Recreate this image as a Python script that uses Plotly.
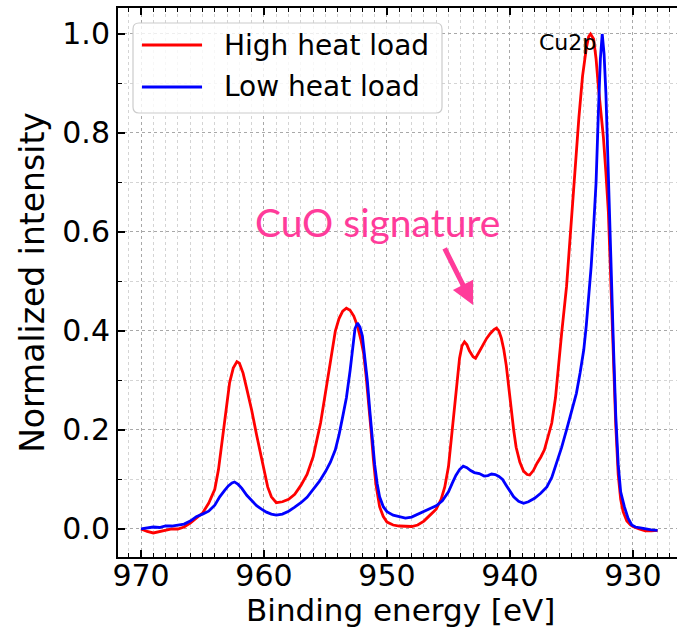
import plotly.graph_objects as go

# ---------------- data ----------------
high_energy = [970.0, 969.5, 969.0, 968.5, 968.0, 967.5, 967.0, 966.5, 966.0, 965.5,
               965.0, 964.5, 964.0, 963.7, 963.4, 963.1, 962.8, 962.5, 962.2, 962.0,
               961.7, 961.4, 961.0, 960.6, 960.3, 960.0, 959.7, 959.4, 959.0, 958.5,
               958.0, 957.5, 957.0, 956.5, 956.0, 955.7, 955.4, 955.1, 954.8, 954.5,
               954.2, 953.9, 953.6, 953.3, 953.0, 952.7, 952.4, 952.1, 951.9, 951.7,
               951.5, 951.3, 951.1, 950.9, 950.6, 950.3, 950.0, 949.5, 949.0, 948.5,
               948.0, 947.5, 947.0, 946.5, 946.0, 945.6, 945.3, 945.0, 944.7, 944.4,
               944.1, 943.9, 943.7, 943.5, 943.3, 943.0, 942.8, 942.5, 942.2, 941.9,
               941.6, 941.3, 941.1, 940.9, 940.7, 940.5, 940.3, 940.1, 939.9, 939.7,
               939.5, 939.2, 938.9, 938.6, 938.4, 938.1, 937.8, 937.5, 937.2, 936.9,
               936.6, 936.3, 936.0, 935.8, 935.4, 935.2, 935.0, 934.7, 934.4, 934.1,
               933.8, 933.6, 933.45, 933.2, 933.0, 932.8, 932.6, 932.4, 932.2, 932.0,
               931.8, 931.6, 931.4, 931.2, 931.0, 930.8, 930.5, 930.2, 930.0, 929.5,
               929.0, 928.5, 928.0]
high_intensity = [0.000, -0.005, -0.008, -0.005, -0.002, 0.000, 0.000, 0.004, 0.012, 0.022,
                  0.032, 0.052, 0.080, 0.120, 0.180, 0.245, 0.295, 0.325, 0.338, 0.335,
                  0.315, 0.283, 0.240, 0.190, 0.153, 0.115, 0.085, 0.065, 0.053, 0.055,
                  0.060, 0.070, 0.088, 0.110, 0.146, 0.180, 0.214, 0.260, 0.310, 0.360,
                  0.400, 0.425, 0.440, 0.446, 0.442, 0.430, 0.410, 0.380, 0.355, 0.310,
                  0.260, 0.200, 0.139, 0.090, 0.045, 0.025, 0.014, 0.008, 0.006, 0.006,
                  0.005, 0.008, 0.016, 0.028, 0.040, 0.060, 0.085, 0.126, 0.200, 0.280,
                  0.345, 0.370, 0.378, 0.372, 0.360, 0.348, 0.345, 0.358, 0.372, 0.385,
                  0.395, 0.403, 0.406, 0.400, 0.385, 0.362, 0.330, 0.285, 0.240, 0.200,
                  0.165, 0.135, 0.117, 0.110, 0.109, 0.118, 0.133, 0.145, 0.160, 0.185,
                  0.214, 0.265, 0.335, 0.395, 0.490, 0.560, 0.630, 0.740, 0.830, 0.915,
                  0.970, 0.995, 1.000, 0.990, 0.950, 0.890, 0.840, 0.790, 0.720, 0.640,
                  0.500, 0.350, 0.210, 0.110, 0.060, 0.035, 0.016, 0.008, 0.005, 0.000,
                  -0.004, -0.004, -0.003]

low_energy = [970.0, 969.5, 969.0, 968.5, 968.0, 967.5, 967.0, 966.5, 966.0, 965.5,
              965.0, 964.5, 964.0, 963.6, 963.2, 962.9, 962.6, 962.4, 962.1, 961.8,
              961.4, 961.0, 960.6, 960.2, 959.8, 959.4, 959.0, 958.5, 958.0, 957.5,
              957.0, 956.5, 956.0, 955.5, 955.0, 954.6, 954.2, 953.9, 953.6, 953.3,
              953.0, 952.8, 952.6, 952.4, 952.2, 952.0, 951.8, 951.6, 951.4, 951.2,
              951.0, 950.8, 950.6, 950.3, 950.0, 949.5, 949.0, 948.5, 948.0, 947.5,
              947.0, 946.5, 946.0, 945.5, 945.0, 944.7, 944.4, 944.1, 943.8, 943.5,
              943.2, 942.9, 942.5, 942.1, 941.8, 941.5, 941.2, 940.9, 940.6, 940.3,
              940.0, 939.7, 939.3, 938.9, 938.5, 938.0, 937.5, 937.0, 936.6, 936.2,
              935.8, 935.4, 935.0, 934.6, 934.3, 934.0, 933.8, 933.6, 933.4, 933.2,
              933.0, 932.8, 932.65, 932.5, 932.35, 932.2, 932.0, 931.8, 931.6, 931.4,
              931.2, 931.0, 930.7, 930.4, 930.1, 929.8, 929.4, 929.0, 928.5, 928.0]
low_intensity = [0.000, 0.002, 0.004, 0.003, 0.006, 0.006, 0.008, 0.010, 0.016, 0.025,
                 0.030, 0.036, 0.048, 0.065, 0.078, 0.087, 0.093, 0.095, 0.090, 0.082,
                 0.068, 0.057, 0.047, 0.040, 0.034, 0.030, 0.028, 0.030, 0.036, 0.044,
                 0.053, 0.064, 0.079, 0.096, 0.116, 0.135, 0.160, 0.190, 0.227, 0.265,
                 0.320, 0.370, 0.405, 0.416, 0.408, 0.390, 0.350, 0.300, 0.240, 0.185,
                 0.130, 0.092, 0.065, 0.045, 0.035, 0.028, 0.025, 0.022, 0.024, 0.030,
                 0.036, 0.042, 0.047, 0.057, 0.075, 0.092, 0.108, 0.120, 0.127, 0.124,
                 0.118, 0.114, 0.112, 0.107, 0.108, 0.111, 0.110, 0.106, 0.100, 0.088,
                 0.076, 0.065, 0.056, 0.052, 0.055, 0.062, 0.072, 0.085, 0.104, 0.133,
                 0.165, 0.200, 0.235, 0.274, 0.315, 0.362, 0.410, 0.463, 0.530, 0.610,
                 0.700, 0.850, 0.950, 1.000, 0.960, 0.880, 0.730, 0.550, 0.380, 0.230,
                 0.130, 0.075, 0.045, 0.022, 0.008, 0.004, 0.002, 0.000, -0.002, -0.003]

series_names = ["High heat load", "Low heat load"]
series_colors = ["#ff0000", "#0000ff"]
x_tick_values = [970, 960, 950, 940, 930]
x_title = "Binding energy [eV]"
y_title = "Normalized intensity"
peak_label = "Cu2p"
feature_label = "CuO signature"

# ---------------- figure ----------------
W, H = 677, 636
L, R, T, B = 118, 0, 8, 79
pw, ph = W - L - R, H - T - B


def px(xp):
    return (xp - L) / pw


def py(yp):
    return (H - B - yp) / ph


fig = go.Figure()
for xs, ys, name, col in [(high_energy, high_intensity, series_names[0], series_colors[0]),
                          (low_energy, low_intensity, series_names[1], series_colors[1])]:
    fig.add_trace(go.Scatter(x=xs, y=ys, mode="lines", name=name,
                             line=dict(color=col, width=2.8), showlegend=False))

axis_common = dict(
    ticks="inside", ticklen=7, tickwidth=1.5, tickcolor="black",
    showline=True, linewidth=2, linecolor="black",
    showgrid=True, gridcolor="#a8a8a8", griddash="dot", gridwidth=1,
    zeroline=False, tickfont=dict(size=30, color="black"), automargin=False,
)

fig.update_layout(
    width=W, height=H,
    margin=dict(l=L, r=R, t=T, b=B, autoexpand=False),
    plot_bgcolor="white", paper_bgcolor="white",
    font=dict(family="DejaVu Sans", color="black"),
    showlegend=False,
    xaxis=dict(
        range=[971.87, 926.42], tickvals=x_tick_values, mirror="ticks",
        ticklabelstandoff=-9,
        minor=dict(dtick=1, tick0=930, ticks="inside", ticklen=4, tickwidth=1.2,
                   tickcolor="black", showgrid=True, gridcolor="#d4d4d4",
                   griddash="dot", gridwidth=1),
        **axis_common,
    ),
    yaxis=dict(
        range=[-0.0566, 1.0525], dtick=0.2, tick0=0, tickformat=".1f", mirror=False,
        minor=dict(dtick=0.1, tick0=0, ticks="inside", ticklen=4, tickwidth=1.2,
                   tickcolor="black", showgrid=True, gridcolor="#d4d4d4",
                   griddash="dot", gridwidth=1),
        title=dict(text=y_title, font=dict(size=33), standoff=8),
        **axis_common,
    ),
)

# x-axis title centred on the full (partly cropped) matplotlib axis
fig.add_annotation(xref="paper", yref="paper", x=px(400), y=py(610), text=x_title,
                   showarrow=False, xanchor="center", yanchor="middle",
                   font=dict(size=31, color="black", family="DejaVu Sans"))

# ---------------- legend (drawn manually to match matplotlib style) ----------------
bx0, bx1, by0, by1 = px(133), px(442), py(113), py(23)
rx, ry = 6 / pw, 6 / ph
path = (f"M{bx0+rx},{by0} L{bx1-rx},{by0} Q{bx1},{by0} {bx1},{by0+ry} "
        f"L{bx1},{by1-ry} Q{bx1},{by1} {bx1-rx},{by1} L{bx0+rx},{by1} "
        f"Q{bx0},{by1} {bx0},{by1-ry} L{bx0},{by0+ry} Q{bx0},{by0} {bx0+rx},{by0} Z")
fig.add_shape(type="path", path=path, xref="paper", yref="paper",
              fillcolor="rgba(255,255,255,0.8)", line=dict(color="#cccccc", width=1.2),
              layer="above")
for i, (name, col) in enumerate(zip(series_names, series_colors)):
    yy = py(45 + 42 * i)
    fig.add_shape(type="line", xref="paper", yref="paper", x0=px(142), x1=px(202),
                  y0=yy, y1=yy, line=dict(color=col, width=2.8), layer="above")
    fig.add_annotation(xref="paper", yref="paper", x=px(222), y=yy, text=name,
                       showarrow=False, xanchor="left", yanchor="middle",
                       font=dict(size=28, color="black", family="DejaVu Sans"))

# ---------------- annotations ----------------
fig.add_annotation(x=935.3, y=0.982, xref="x", yref="y", text=peak_label, showarrow=False,
                   xanchor="center", yanchor="middle",
                   font=dict(size=22, color="black", family="DejaVu Sans"))
fig.add_annotation(x=950.8, y=0.621, xref="x", yref="y", text=feature_label, showarrow=False,
                   xanchor="center", yanchor="middle",
                   font=dict(size=39, color="#ff3b9a", family="Lato"))
fig.add_annotation(x=943.0, y=0.4525, ax=945.37, ay=0.5697, xref="x", yref="y",
                   axref="x", ayref="y", text="", showarrow=True,
                   arrowhead=2, arrowsize=0.9, arrowwidth=5, arrowcolor="#ff3b9a")

# remove the browser's default 8px body margin so the figure sits at the page origin
fig.write_html("out.html", config={"displayModeBar": False},
               post_script="document.body.style.margin='0px';")
